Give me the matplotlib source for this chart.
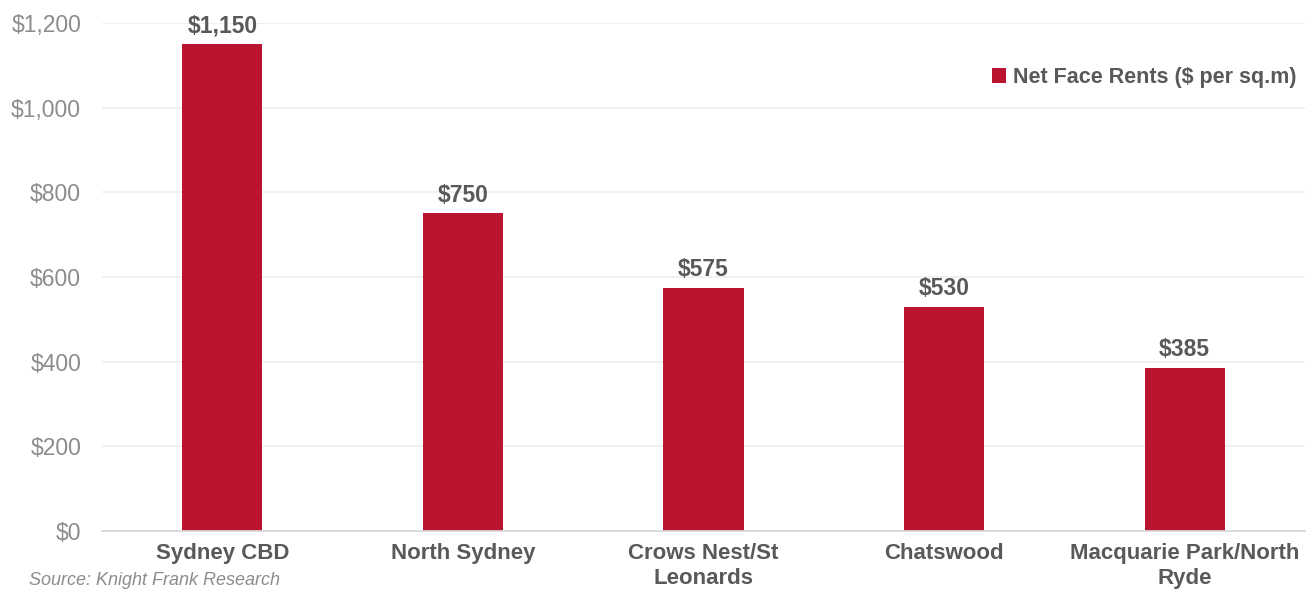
import matplotlib
matplotlib.use("Agg")
from matplotlib import pyplot as plt
import numpy as np

# data
categories = ["Sydney CBD", "North Sydney", "Crows Nest/St\nLeonards", "Chatswood", "Macquarie Park/North\nRyde"]
rents = [1150, 750, 575, 530, 385]
yticks = [0, 200, 400, 600, 800, 1000, 1200]
series_name = "Net Face Rents ($ per sq.m)"
source = "Source: Knight Frank Research"

bar_color = "#BA1431"
text_dark = "#595959"
text_grey = "#8C8C8C"

plt.rcParams['font.family'] = ['Liberation Sans', 'DejaVu Sans']

fig = plt.figure(figsize=(13.15, 5.89), dpi=100)
ax = fig.add_axes([0.0776, 0.0985, 0.9148, 0.8625])

x = np.arange(len(categories))
bars = ax.bar(x, rents, width=0.333, color=bar_color, label=series_name, zorder=3)

for b, v in zip(bars, rents):
	ax.annotate("${:,}".format(v), (b.get_x() + b.get_width() / 2, v),
		xytext=(0, 5), textcoords="offset points", ha="center", va="bottom",
		fontsize=16.5, fontweight="bold", color=text_dark)

ax.set_xlim(-0.5, len(categories) - 0.5)
ax.set_ylim(0, 1200)
ax.set_yticks(yticks)
ax.set_yticklabels(["${:,}".format(t) for t in yticks], fontsize=16.5, color=text_grey)
ax.set_xticks(x)
ax.set_xticklabels(categories, fontsize=16, fontweight="bold", color=text_dark, linespacing=1.2)
ax.tick_params(axis="both", length=0)
ax.tick_params(axis="x", pad=9)
ax.tick_params(axis="y", pad=15)

ax.grid(axis="y", color="#EEEEEE", linewidth=1.2, zorder=0)
for s in ["top", "right", "left"]:
	ax.spines[s].set_visible(False)
ax.spines["bottom"].set_color("#D9D9D9")
ax.spines["bottom"].set_linewidth(1.3)
ax.spines["bottom"].set_zorder(4)

leg = ax.legend(loc="upper right", bbox_to_anchor=(1.0, 0.93), frameon=False,
	handlelength=0.65, handleheight=0.65, handletextpad=0.3, borderaxespad=0,
	prop={"size": 15.5, "weight": "bold"})
for t in leg.get_texts():
	t.set_color(text_dark)

fig.text(0.022, 0.0, source, fontsize=13, style="italic", color=text_grey, va="bottom")

fig.savefig("out.png", dpi=100)
